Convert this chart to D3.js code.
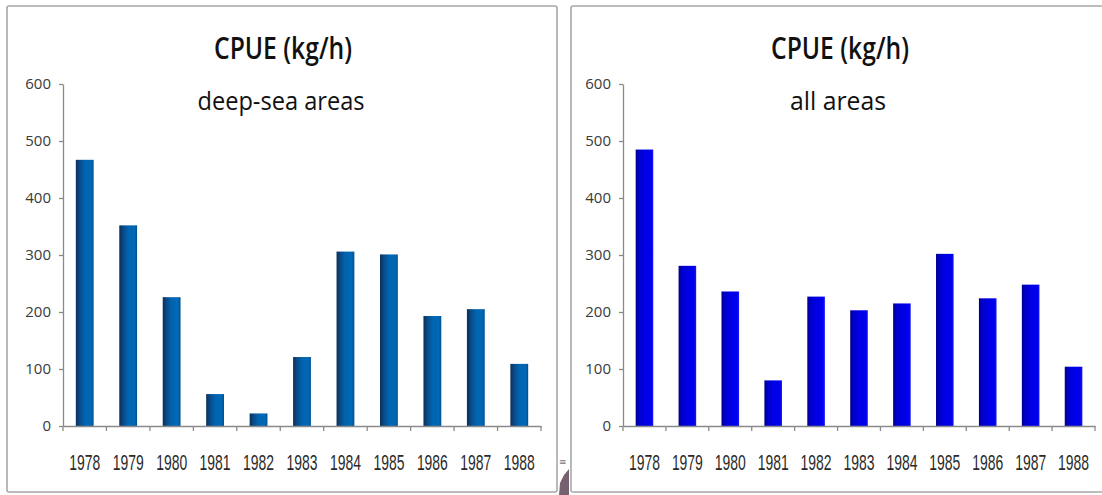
<!DOCTYPE html>
<html>
<head>
<meta charset="utf-8">
<script src="https://cdn.jsdelivr.net/npm/d3@7"></script>
<style>
  html, body { margin: 0; padding: 0; background: #ffffff; }
  svg { display: block; }
</style>
</head>
<body>
<svg id="chart" width="1102" height="495"></svg>
<script>
// ---- data ----
const years = ["1978","1979","1980","1981","1982","1983","1984","1985","1986","1987","1988"];
const deepSeaCPUE = [467, 352, 226, 56, 22, 121, 306, 301, 193, 205, 109];
const allAreasCPUE = [485, 281, 236, 80, 227, 203, 215, 302, 224, 248, 104];
const yTickValues = [0, 100, 200, 300, 400, 500, 600];
const titleText = "CPUE (kg/h)";
const subtitleLeft = "deep-sea areas";
const subtitleRight = "all areas";

const svg = d3.select("#chart");
const defs = svg.append("defs");

// gradients for bars
const g1 = defs.append("linearGradient").attr("id", "gradLeft")
  .attr("x1", "0%").attr("x2", "100%").attr("y1", "0%").attr("y2", "0%");
[["0%", "#0a2f58"], ["22%", "#0a4a88"], ["50%", "#0064b0"], ["85%", "#0068b6"], ["100%", "#00508f"]]
  .forEach(s => g1.append("stop").attr("offset", s[0]).attr("stop-color", s[1]));

const g2 = defs.append("linearGradient").attr("id", "gradRight")
  .attr("x1", "0%").attr("x2", "100%").attr("y1", "0%").attr("y2", "0%");
[["0%", "#00008a"], ["18%", "#0000c8"], ["50%", "#0000e4"], ["88%", "#0000ee"], ["100%", "#1818f6"]]
  .forEach(s => g2.append("stop").attr("offset", s[0]).attr("stop-color", s[1]));

// panel frames
svg.append("rect").attr("x", 7).attr("y", 6).attr("width", 550).attr("height", 486)
  .attr("rx", 2).attr("fill", "none").attr("stroke", "#a8a8a8").attr("stroke-width", 1.6);
svg.append("path").attr("d", "M1102,6 L573,6 Q571,6 571,8 L571,490 Q571,492 573,492 L1102,492")
  .attr("fill", "none").attr("stroke", "#a8a8a8").attr("stroke-width", 1.6);

// small artifact between panels
svg.append("text").attr("x", 559).attr("y", 465).attr("font-size", 9)
  .attr("font-family", "DejaVu Sans").attr("fill", "#777").text("≡");
svg.append("path").attr("d", "M559,495 L560,483 L564,475 L569,469 L569,495 Z")
  .attr("fill", "#5d4556").attr("opacity", 0.85);

function drawPanel(cfg) {
  const x = d3.scaleBand().domain(years).range([cfg.x0, cfg.x1]).padding(0);
  const y = d3.scaleLinear().domain([0, 600]).range([426, 84]);
  const g = svg.append("g");

  // bars
  const bw = x.bandwidth() * 0.41;
  g.selectAll("rect.bar").data(years).enter().append("rect")
    .attr("class", "bar")
    .attr("x", d => x(d) + (x.bandwidth() - bw) / 2)
    .attr("width", bw)
    .attr("y", (d, i) => y(cfg.values[i]))
    .attr("height", (d, i) => y(0) - y(cfg.values[i]))
    .attr("fill", cfg.fill);

  // y axis
  const yAxis = d3.axisLeft(y).tickValues(yTickValues).tickSize(4).tickSizeOuter(0).tickPadding(8);
  const ya = g.append("g").attr("transform", `translate(${cfg.x0},0)`).call(yAxis);
  ya.select(".domain").attr("stroke", "#8a8a8a").attr("stroke-width", 1.3);
  ya.selectAll(".tick line").attr("stroke", "#8a8a8a").attr("stroke-width", 1.3);
  ya.selectAll(".tick text")
    .attr("font-family", "'Open Sans', 'Noto Sans', sans-serif")
    .attr("font-size", 15).attr("fill", "#3a3a3a");

  // x axis baseline
  const xa = d3.axisBottom(x).tickSize(0).tickSizeOuter(0).tickPadding(0);
  const xg = g.append("g").attr("transform", `translate(0,${y(0)})`).call(xa);
  xg.select(".domain").attr("stroke", "#8a8a8a").attr("stroke-width", 1.3);
  xg.selectAll(".tick text")
    .attr("dy", null).attr("y", 44)
    .attr("font-family", "'Liberation Sans Narrow', 'Liberation Sans', sans-serif")
    .attr("font-size", 22).attr("fill", "#2a2a2a")
    .each(function () {
      const w = this.getComputedTextLength();
      const s = w > 0 ? 31 / w : 1;
      d3.select(this).attr("transform", `scale(${s},1)`);
    });

  // category boundary ticks
  const bounds = years.map(d => x(d)).concat([x.range()[1]]);
  g.selectAll("line.bt").data(bounds).enter().append("line")
    .attr("class", "bt")
    .attr("x1", d => d).attr("x2", d => d)
    .attr("y1", y(0)).attr("y2", y(0) + 5)
    .attr("stroke", "#8a8a8a").attr("stroke-width", 1.3);

  // titles
  g.append("text").attr("x", cfg.tx).attr("y", 59).attr("text-anchor", "middle")
    .attr("font-family", "'Open Sans', 'Noto Sans', sans-serif")
    .attr("font-size", 30).attr("font-weight", 600).attr("fill", "#111")
    .attr("textLength", 138).attr("lengthAdjust", "spacingAndGlyphs")
    .text(titleText);
  g.append("text").attr("x", cfg.sx).attr("y", 110).attr("text-anchor", "middle")
    .attr("font-family", "'Open Sans', 'Noto Sans', sans-serif")
    .attr("font-size", 25).attr("font-weight", 500).attr("fill", "#111")
    .attr("textLength", cfg.sw).attr("lengthAdjust", "spacingAndGlyphs")
    .text(cfg.subtitle);
}

drawPanel({ x0: 63, x1: 541, values: deepSeaCPUE, fill: "url(#gradLeft)",
  tx: 283, sx: 281, sw: 167, subtitle: subtitleLeft });
drawPanel({ x0: 623, x1: 1095, values: allAreasCPUE, fill: "url(#gradRight)",
  tx: 840, sx: 838, sw: 96, subtitle: subtitleRight });
</script>
</body>
</html>
